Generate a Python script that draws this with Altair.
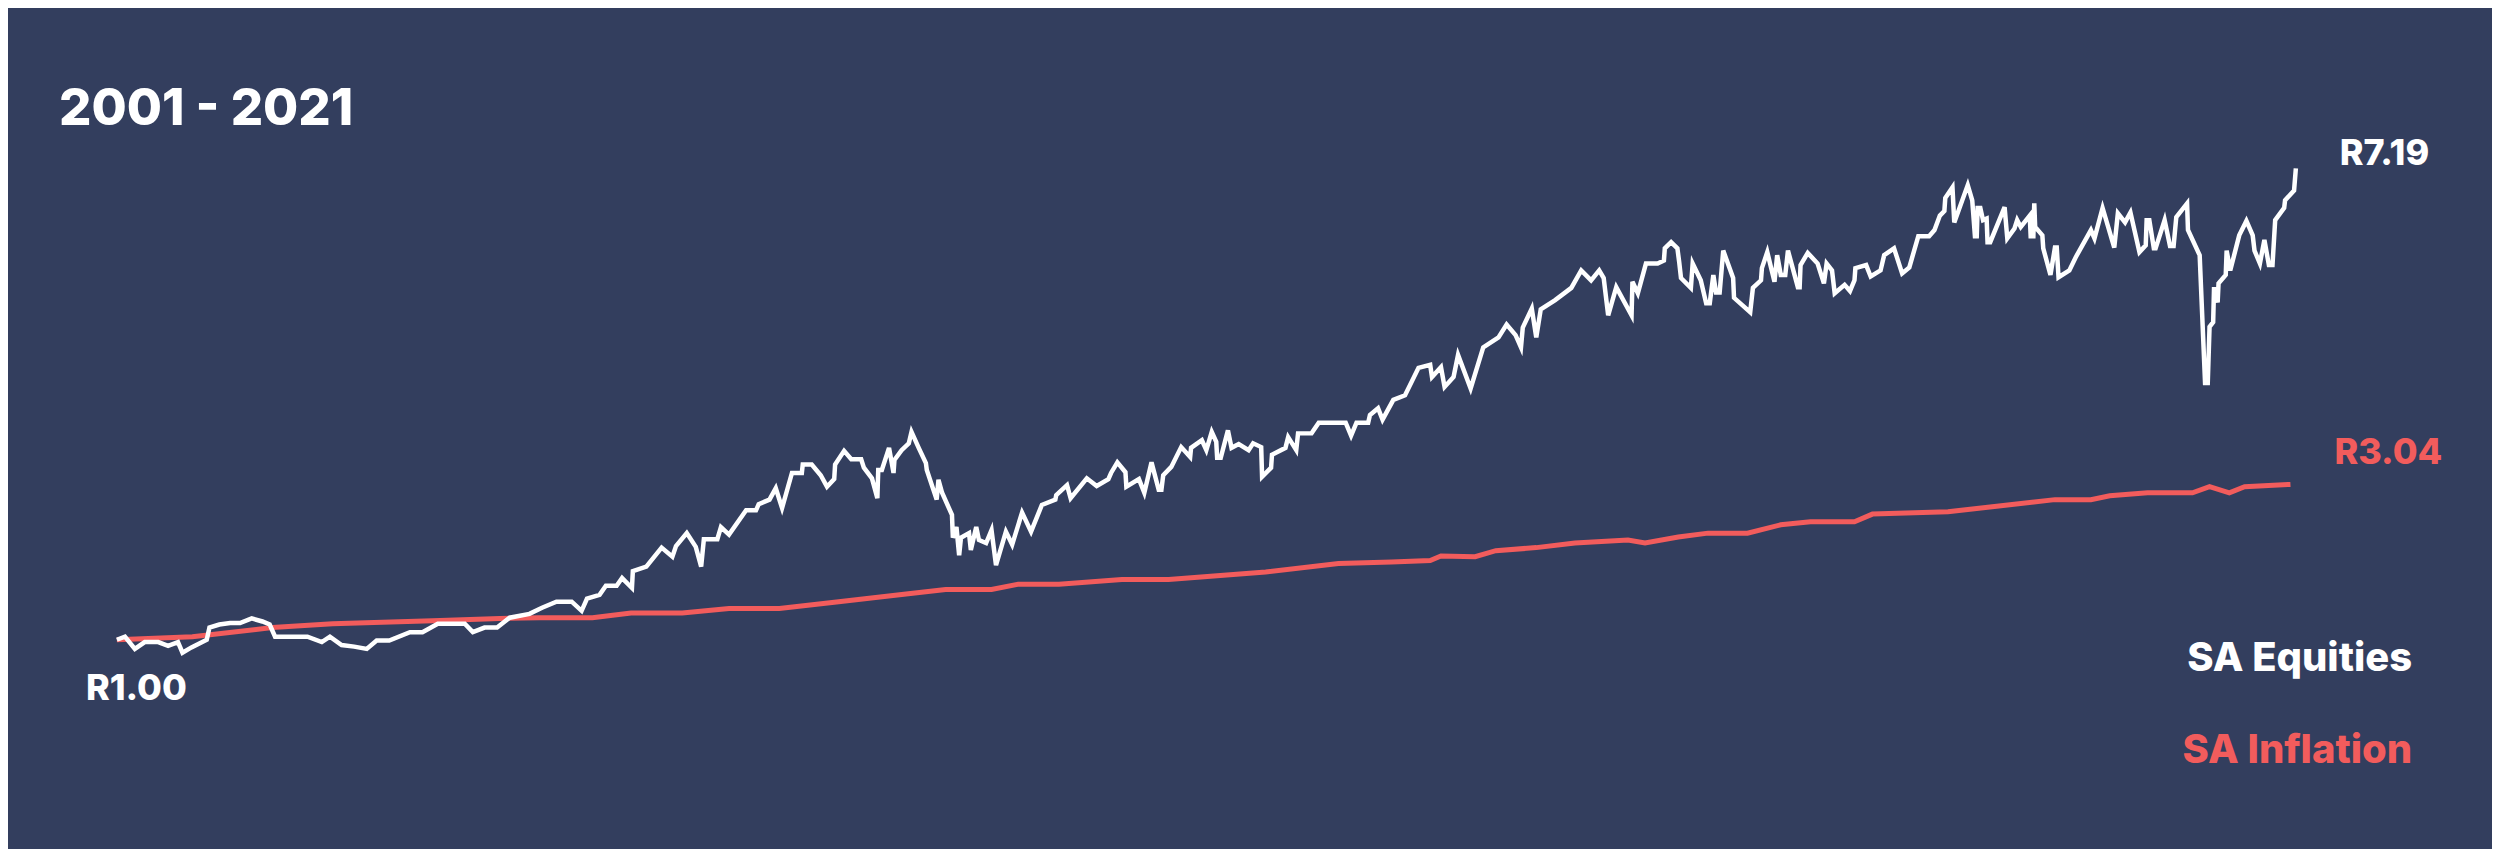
import altair as alt
import pandas as pd

# growth of R1 invested, months since Jan 2001
eq_month = [
    0.0, 0.9, 2.0, 3.1, 4.6, 5.7, 6.8, 7.3, 8.3, 10.0,
    10.3, 11.4, 12.6, 13.7, 15.0, 16.2, 17.0, 17.6, 21.2, 22.8,
    23.7, 25.0, 26.4, 27.8, 28.9, 30.3, 32.6, 34.0, 35.7, 38.7,
    39.6, 40.9, 42.3, 43.7, 45.9, 47.3, 48.9,
    50.6, 51.7, 52.3, 53.7, 54.4, 55.6, 56.2, 57.3, 57.4, 58.9,
    60.6, 61.8, 62.2, 63.4, 64.4, 65.0, 65.3, 66.8, 67.2, 68.1,
    70.0, 71.1, 71.4, 72.6, 73.3, 74.0, 75.1, 76.2, 76.3, 77.3,
    78.3, 79.0, 79.8, 79.9, 80.9, 81.7, 82.8, 83.1, 84.0, 84.6,
    84.7, 85.1, 85.9, 86.4, 86.5, 87.3, 88.1, 88.4, 89.2, 90.0,
    90.1, 91.2, 91.4, 91.8, 92.9, 93.0, 93.4, 93.7, 93.9, 94.8,
    95.0, 95.6, 95.9, 96.7, 97.3, 97.8,
    98.9, 99.6, 100.7, 101.7, 102.9, 104.4, 104.5, 105.7, 106.1, 107.9,
    109.0, 110.3, 110.6, 111.3, 112.2, 112.3, 113.7, 114.3, 115.1, 115.9,
    116.2, 116.4, 117.3, 118.4, 119.4, 119.5, 120.7, 121.2, 121.8, 122.3,
    122.4, 122.8, 123.6, 124.0, 124.8, 125.9, 126.4, 127.3, 127.4, 128.4,
    128.5, 130.0, 130.3, 131.2, 131.4, 132.9, 133.7, 136.7, 137.3, 137.9,
    139.2, 139.4, 140.3, 140.8, 142.0, 143.3,
    144.8, 146.1, 146.3, 147.3, 147.7, 148.7, 149.2, 150.6, 152.0, 153.7,
    154.6, 155.6, 156.2, 156.4, 157.4, 157.9, 158.4, 160.0, 161.8, 162.9,
    164.0, 164.9, 165.4, 165.9, 166.8, 168.5, 168.6, 169.2, 170.1, 171.4,
    172.1, 172.2, 172.9, 173.6, 173.8, 174.0, 175.1, 175.3, 176.2, 176.8,
    177.2, 177.6, 177.9, 178.3, 178.7, 179.8, 179.9, 181.7, 182.0, 182.9,
    183.0, 183.6, 184.4, 184.7, 185.1, 185.6, 185.9, 187.0, 187.2, 187.3,
    188.1, 189.2, 189.9, 190.2, 190.8, 191.1, 192.2, 192.8, 193.3, 193.4,
    194.6,
    195.1, 196.2, 196.6, 197.7, 198.6, 199.4, 200.4, 201.6, 202.2, 202.8,
    203.3, 203.4, 204.2, 204.4, 205.9, 206.4, 206.7, 206.9, 207.0, 207.3,
    207.6, 208.0, 208.1, 208.4, 210.0, 210.3, 211.1, 211.4, 211.8, 212.8,
    212.9, 213.2, 213.3, 213.4, 214.2, 214.3, 215.1, 215.6, 215.8, 216.0,
    217.2, 217.9, 219.6, 220.0, 220.9, 222.2, 222.6, 223.4, 224.0, 225.0,
    225.7, 225.8, 226.1, 226.6, 226.8, 227.8, 228.4, 228.8, 229.1, 230.3,
    230.4, 231.7, 232.3, 232.6, 232.8, 233.2, 233.3, 233.7, 233.8, 234.6,
    234.7, 235.1, 236.1, 236.9, 237.6, 237.8, 238.4, 238.9, 239.4, 239.8,
    240.1, 241.1, 241.2, 242.2, 242.4,
]
eq_value = [
    1.00, 1.04, 0.88, 0.97, 0.97, 0.92, 0.97, 0.83, 0.90, 1.00,
    1.16, 1.20, 1.22, 1.22, 1.28, 1.24, 1.20, 1.04, 1.04, 0.97,
    1.04, 0.93, 0.91, 0.88, 0.99, 0.99, 1.10, 1.10, 1.21, 1.21,
    1.10, 1.16, 1.16, 1.29, 1.34, 1.42, 1.50,
    1.50, 1.38, 1.54, 1.59, 1.71, 1.71, 1.81, 1.68, 1.90, 1.96,
    2.21, 2.09, 2.23, 2.40, 2.22, 1.96, 2.32, 2.32, 2.48, 2.38,
    2.70, 2.70, 2.78, 2.84, 2.99, 2.73, 3.19, 3.19, 3.30, 3.30,
    3.16, 3.01, 3.11, 3.30, 3.48, 3.37, 3.37, 3.26, 3.12, 2.86,
    3.23, 3.23, 3.52, 3.19, 3.36, 3.49, 3.58, 3.73, 3.52, 3.32,
    3.23, 2.84, 3.10, 2.93, 2.64, 2.34, 2.48, 2.11, 2.34, 2.40,
    2.18, 2.48, 2.31, 2.27, 2.44, 1.98,
    2.42, 2.25, 2.67, 2.42, 2.77, 2.84, 2.90, 3.03, 2.86, 3.12,
    3.02, 3.11, 3.19, 3.33, 3.20, 3.01, 3.11, 2.93, 3.33, 2.97,
    2.97, 3.16, 3.27, 3.53, 3.40, 3.52, 3.62, 3.49, 3.73, 3.60,
    3.39, 3.39, 3.75, 3.52, 3.57, 3.49, 3.58, 3.53, 3.14, 3.26,
    3.43, 3.52, 3.66, 3.49, 3.71, 3.71, 3.85, 3.85, 3.68, 3.85,
    3.85, 3.95, 4.04, 3.89, 4.15, 4.21,
    4.57, 4.61, 4.45, 4.58, 4.32, 4.45, 4.74, 4.30, 4.84, 4.97,
    5.14, 5.00, 4.84, 5.10, 5.35, 4.97, 5.34, 5.46, 5.62, 5.85,
    5.72, 5.85, 5.75, 5.26, 5.63, 5.26, 5.70, 5.55, 5.94, 5.94,
    5.98, 6.14, 6.22, 6.14, 5.96, 5.75, 5.62, 5.94, 5.72, 5.42,
    5.42, 5.79, 5.56, 5.56, 6.11, 5.75, 5.49, 5.30, 5.62, 5.72,
    5.88, 6.09, 5.70, 6.05, 5.79, 5.79, 6.11, 5.63, 5.63, 5.92,
    6.08, 5.94, 5.68, 5.94, 5.85, 5.55, 5.66, 5.58, 5.72, 5.88,
    5.92,
    5.77, 5.85, 6.05, 6.14, 5.81, 5.89, 6.30, 6.30, 6.38, 6.57,
    6.63, 6.80, 6.94, 6.48, 6.97, 6.77, 6.30, 6.30, 6.67, 6.67,
    6.51, 6.53, 6.22, 6.22, 6.68, 6.27, 6.40, 6.51, 6.42, 6.57,
    6.30, 6.30, 6.73, 6.42, 6.31, 6.14, 5.79, 6.15, 6.15, 5.76,
    5.85, 6.02, 6.38, 6.27, 6.67, 6.15, 6.60, 6.48, 6.61, 6.09,
    6.18, 6.51, 6.51, 6.14, 6.14, 6.51, 6.17, 6.17, 6.55, 6.73,
    6.38, 6.05, 4.37, 4.37, 5.11, 5.17, 5.63, 5.43, 5.68, 5.79,
    6.11, 5.85, 6.31, 6.50, 6.31, 6.11, 5.94, 6.25, 5.92, 5.92,
    6.51, 6.67, 6.77, 6.90, 7.19,
]
inf_month = [
    0.0, 8.4, 17.3, 24.0, 35.1, 42.6, 47.0, 52.9, 57.2, 62.9,
    68.1, 73.7, 80.3, 87.8, 92.2, 97.3, 100.3, 104.8, 111.8, 117.0,
    127.8, 135.9, 141.8, 146.1, 147.3, 151.1, 153.4, 157.9, 162.2, 168.1,
    170.0, 173.7, 177.0, 181.4, 185.1, 188.4, 193.3, 195.3, 203.7, 215.6,
    219.6, 221.7, 225.9, 230.9, 232.8, 235.0, 236.7, 241.8,
]
inf_value = [
    1.00, 1.04, 1.16, 1.21, 1.25, 1.28, 1.29, 1.29, 1.35, 1.35,
    1.41, 1.41, 1.50, 1.60, 1.66, 1.66, 1.73, 1.73, 1.79, 1.79,
    1.89, 2.00, 2.02, 2.04, 2.10, 2.09, 2.17, 2.21, 2.27, 2.31,
    2.27, 2.35, 2.40, 2.40, 2.51, 2.55, 2.55, 2.65, 2.68, 2.84,
    2.84, 2.89, 2.93, 2.93, 3.01, 2.93, 3.01, 3.04,
]
assert len(eq_month) == len(eq_value) and len(inf_month) == len(inf_value)

BG = "#333e5e"
RED = "#f25c5c"
FONT = "Inter"

equities = pd.DataFrame({"month": eq_month, "value": eq_value})
inflation = pd.DataFrame({"month": inf_month, "value": inf_value})

x = alt.X("month:Q", scale=alt.Scale(domain=[-12.11, 264.22], nice=False, zero=False), axis=None)
y = alt.Y("value:Q", scale=alt.Scale(domain=[-1.741, 9.289], nice=False, zero=False), axis=None)

eq_line = alt.Chart(equities).mark_line(color="white", strokeWidth=4.5, strokeJoin="miter").encode(x=x, y=y)
inf_line = alt.Chart(inflation).mark_line(color=RED, strokeWidth=5).encode(x=x, y=y)


def end_label(df, color, dx, dy):
    # label the point with its own value, e.g. "R7.19"
    return alt.Chart(df).mark_text(
        font=FONT, fontSize=36, fontWeight=800, color=color,
        align="left", baseline="alphabetic", dx=dx, dy=dy
    ).transform_calculate(
        label="'R' + format(datum.value, '.2f')"
    ).encode(x=x, y=y, text="label:N")


eq_end = end_label(equities.tail(1), "white", 44, -3)
inf_end = end_label(inflation.tail(1), RED, 44, -20)
start = end_label(equities.head(1), "white", -31, 60)


def free_text(txt, color, size, px, py, align):
    return alt.Chart(pd.DataFrame({"t": [txt]})).mark_text(
        font=FONT, fontSize=size, fontWeight=800, color=color,
        align=align, baseline="alphabetic"
    ).encode(x=alt.value(px), y=alt.value(py), text="t:N")


title = free_text("2001 - 2021", "white", 51, 51, 117, "left")
leg_eq = free_text("SA Equities", "white", 40, 2407, 663, "right")
leg_inf = free_text("SA Inflation", RED, 40, 2407, 755, "right")

chart = alt.layer(
    inf_line, eq_line, eq_end, inf_end, start, title, leg_eq, leg_inf
).properties(
    width=2487,
    height=841,
    background=BG,
    padding=0,
    autosize=alt.AutoSizeParams(type="none"),
).configure_view(stroke=None)

chart.save("out.html", embed_options={"renderer": "svg", "actions": False})
